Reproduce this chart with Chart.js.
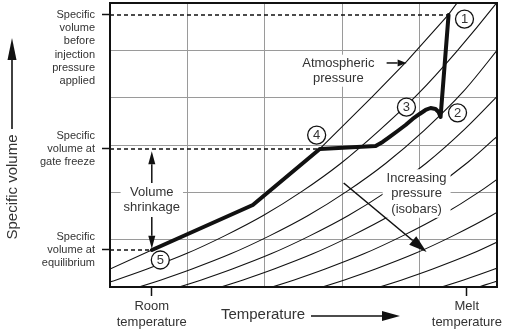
<!DOCTYPE html>
<html>
<head>
<meta charset="utf-8">
<script src="https://cdn.jsdelivr.net/npm/chart.js@4/dist/chart.umd.min.js"></script>
<style>
  html, body { margin: 0; padding: 0; background: #fff; }
</style>
</head>
<body>
<canvas id="pvt" width="506" height="329"></canvas>
<script>
// temperature axis runs 0..5, specific volume 0..6 (one unit per grid cell)
const roomTemp = 0.54;
const meltTemp = 4.61;
const volBeforeInjection = 5.747;
const volGateFreeze = 2.916;
const volEquilibrium = 0.782;
const beforeLabelAnchor = 5.05; // centre of the six-line label under the top tick

// moulding cycle path 5 -> 4 -> 3 -> 2 -> 1 as [temperature, volume]
const processPath = [
  [0.542, 0.782], [1.845, 1.733], [2.71, 2.916], [3.432, 2.979], [3.523, 3.064],
  [3.613, 3.17], [3.716, 3.296], [3.819, 3.423], [3.91, 3.55], [4.0, 3.655],
  [4.077, 3.74], [4.142, 3.782], [4.206, 3.761], [4.245, 3.697], [4.271, 3.592],
  [4.374, 5.747]
];

// stage markers
const stageNames = ['1', '2', '3', '4', '5'];
const stageTemps = [4.58, 4.49, 3.83, 2.67, 0.65];
const stageVols = [5.66, 3.68, 3.80, 3.21, 0.57];

// isobars, atmospheric first, pressure rising down the chart
const isobarAtm = [[-0.6, -0.04], [0, 0.38], [0.54, 0.78], [1.85, 1.73], [2.71, 2.92],
  [3.39, 4.02], [3.83, 4.76], [4.37, 5.75], [4.62, 6.3]];
const isobar2 = [[-0.32, -0.06], [0.08, 0.15], [0.48, 0.38], [0.98, 0.70], [1.48, 1.08],
  [1.98, 1.51], [2.48, 2.02], [2.98, 2.61], [3.48, 3.31], [3.98, 4.08], [4.48, 4.98],
  [4.98, 5.97], [5.2, 6.45]];
const isobar3 = [[0.26, -0.06], [0.66, 0.15], [1.06, 0.38], [1.56, 0.70], [2.06, 1.08],
  [2.56, 1.51], [3.06, 2.02], [3.56, 2.61], [4.06, 3.31], [4.56, 4.12], [5.06, 5.12]];
const isobar4 = [[0.78, -0.06], [1.18, 0.15], [1.58, 0.38], [2.08, 0.70], [2.58, 1.08],
  [3.08, 1.51], [3.58, 2.02], [4.08, 2.61], [4.58, 3.33], [5.08, 4.16]];
const isobar5 = [[1.32, -0.06], [1.72, 0.15], [2.12, 0.38], [2.62, 0.70], [3.12, 1.08],
  [3.62, 1.51], [4.12, 2.02], [4.62, 2.63], [5.12, 3.36]];
const isobar6 = [[1.98, -0.06], [2.38, 0.15], [2.78, 0.38], [3.28, 0.70], [3.78, 1.08],
  [4.28, 1.51], [4.78, 2.02], [5.28, 2.61]];
const isobar7 = [[2.63, -0.06], [3.03, 0.15], [3.43, 0.38], [3.93, 0.70], [4.43, 1.08],
  [4.93, 1.51], [5.43, 2.02]];
const isobar8 = [[3.37, -0.06], [3.77, 0.15], [4.17, 0.38], [4.67, 0.70], [5.17, 1.08]];
const isobar9 = [[4.17, -0.06], [4.57, 0.15], [4.97, 0.38], [5.47, 0.70]];
const isobar10 = [[4.65, -0.06], [5.05, 0.15], [5.45, 0.38]];

const ink = '#111';
const textInk = '#333';
const gridGray = '#9a9a9a';
const clear = 'rgba(0,0,0,0)';

Chart.defaults.font.family = "'Liberation Sans', Arial, sans-serif";

const toPts = arr => arr.map(p => ({ x: p[0], y: p[1] }));

function isobarSet(arr, smooth) {
  return {
    data: toPts(arr), showLine: true, pointRadius: 0, borderColor: ink,
    borderWidth: 1.1, cubicInterpolationMode: smooth ? 'monotone' : 'default', tension: 0
  };
}

function dashSet(t, v) {
  return {
    data: [{ x: 0, y: v }, { x: t, y: v }], showLine: true, pointRadius: 0,
    borderColor: ink, borderWidth: 1.5, borderDash: [4, 3]
  };
}

function arrow(ctx, x1, y1, x2, y2, head, half, width) {
  const ang = Math.atan2(y2 - y1, x2 - x1);
  const bx = x2 - head * Math.cos(ang), by = y2 - head * Math.sin(ang);
  ctx.lineWidth = width;
  ctx.beginPath(); ctx.moveTo(x1, y1); ctx.lineTo(bx, by); ctx.stroke();
  ctx.beginPath(); ctx.moveTo(x2, y2);
  ctx.lineTo(bx + half * Math.sin(ang), by - half * Math.cos(ang));
  ctx.lineTo(bx - half * Math.sin(ang), by + half * Math.cos(ang));
  ctx.closePath(); ctx.fill();
}

function textBlock(ctx, lines, cx, cy, lh, pad) {
  const w = Math.max(...lines.map(l => ctx.measureText(l).width));
  const h = lines.length * lh;
  ctx.fillStyle = '#fff';
  ctx.fillRect(cx - w / 2 - pad, cy - h / 2 - 1, w + 2 * pad, h + 2);
  ctx.fillStyle = textInk;
  lines.forEach((l, i) => ctx.fillText(l, cx, cy - h / 2 + lh * (i + 0.5)));
}

const annotate = {
  id: 'annotate',
  afterDatasetsDraw(chart) {
    const { ctx, chartArea: a, scales: { x, y } } = chart;
    ctx.save();
    ctx.textAlign = 'center';
    ctx.textBaseline = 'middle';
    ctx.strokeStyle = ink;
    ctx.fillStyle = ink;

    // stage numbers inside the circles
    ctx.font = "13px 'Liberation Sans', Arial, sans-serif";
    ctx.fillStyle = textInk;
    stageNames.forEach((n, i) => {
      ctx.fillText(n, x.getPixelForValue(stageTemps[i]), y.getPixelForValue(stageVols[i]) + 0.5);
    });

    // atmospheric pressure note
    const ax = x.getPixelForValue(2.95), ay = y.getPixelForValue(4.57);
    textBlock(ctx, ['Atmospheric', 'pressure'], ax, ay, 15, 3);
    ctx.fillStyle = ink;
    arrow(ctx, x.getPixelForValue(3.574), y.getPixelForValue(4.733),
      x.getPixelForValue(3.832), y.getPixelForValue(4.733), 9, 3.5, 1.5);

    // volume shrinkage between gate freeze and equilibrium
    const sx = x.getPixelForValue(roomTemp);
    textBlock(ctx, ['Volume', 'shrinkage'], sx, y.getPixelForValue(1.85), 15, 3);
    ctx.fillStyle = ink;
    arrow(ctx, sx, y.getPixelForValue(2.197), sx, y.getPixelForValue(2.87), 13, 3.5, 1.5);
    arrow(ctx, sx, y.getPixelForValue(1.479), sx, y.getPixelForValue(0.81), 13, 3.5, 1.5);

    // isobar note and direction of rising pressure
    textBlock(ctx, ['Increasing', 'pressure', '(isobars)'],
      x.getPixelForValue(3.961), y.getPixelForValue(1.975), 15.5, 4);
    ctx.fillStyle = ink;
    arrow(ctx, x.getPixelForValue(3.019), y.getPixelForValue(2.197),
      x.getPixelForValue(4.09), y.getPixelForValue(0.739), 18, 5.5, 1.6);

    // frame
    ctx.lineWidth = 2;
    ctx.strokeRect(a.left, a.top, a.right - a.left, a.bottom - a.top);

    // axis titles with their arrows
    ctx.font = "15px 'Liberation Sans', Arial, sans-serif";
    ctx.fillStyle = textInk;
    ctx.fillText('Temperature', 263, 315);
    ctx.fillStyle = ink;
    arrow(ctx, 311, 316, 400, 316, 18, 5, 1.6);

    ctx.save();
    ctx.translate(13, 187);
    ctx.rotate(-Math.PI / 2);
    ctx.fillStyle = textInk;
    ctx.fillText('Specific volume', 0, 0);
    ctx.restore();
    ctx.fillStyle = ink;
    arrow(ctx, 12, 129, 12, 38, 22, 4.5, 1.6);
    ctx.restore();
  }
};

const xKeys = [roomTemp, meltTemp];
const yKeys = [volEquilibrium, volGateFreeze, volBeforeInjection];
const isInt = v => Math.abs(v - Math.round(v)) < 1e-9;

new Chart(document.getElementById('pvt'), {
  type: 'scatter',
  data: {
    datasets: [
      {
        data: stageTemps.map((t, i) => ({ x: t, y: stageVols[i] })), pointRadius: 9,
        pointBackgroundColor: '#fff', pointBorderColor: ink, pointBorderWidth: 1.3
      },
      {
        data: toPts(processPath), showLine: true, pointRadius: 0, borderColor: ink,
        borderWidth: 4, borderJoinStyle: 'round', borderCapStyle: 'round', tension: 0
      },
      dashSet(processPath[processPath.length - 1][0], volBeforeInjection),
      dashSet(2.71, volGateFreeze),
      dashSet(roomTemp, volEquilibrium),
      isobarSet(isobarAtm, false),
      isobarSet(isobar2, true),
      isobarSet(isobar3, true),
      isobarSet(isobar4, true),
      isobarSet(isobar5, true),
      isobarSet(isobar6, true),
      isobarSet(isobar7, true),
      isobarSet(isobar8, true),
      isobarSet(isobar9, true),
      isobarSet(isobar10, true)
    ]
  },
  options: {
    responsive: false,
    animation: false,
    events: [],
    layout: { autoPadding: false, padding: { top: 3, right: 9, left: 0, bottom: 0 } },
    plugins: { legend: { display: false }, tooltip: { enabled: false } },
    scales: {
      x: {
        type: 'linear', min: 0, max: 5,
        afterBuildTicks: s => {
          s.ticks = [0, 1, 2, 3, 4, 5].concat(xKeys).sort((a, b) => a - b).map(v => ({ value: v }));
        },
        afterFit: s => { s.height = 42; s.paddingLeft = 0; s.paddingRight = 0; },
        grid: {
          color: c => (c.tick && isInt(c.tick.value)) ? gridGray : clear,
          tickColor: c => (c.tick && xKeys.includes(c.tick.value)) ? ink : clear,
          tickLength: 9, lineWidth: 1, tickWidth: 1.5
        },
        border: { color: ink, width: 2 },
        ticks: {
          autoSkip: false, maxRotation: 0, minRotation: 0, padding: 3, color: textInk,
          font: { size: 13 },
          callback: v => v === roomTemp ? ['Room', 'temperature'] : v === meltTemp ? ['Melt', 'temperature'] : []
        }
      },
      y: {
        type: 'linear', min: 0, max: 6,
        afterBuildTicks: s => {
          s.ticks = [0, 1, 2, 3, 4, 5, 6].concat(yKeys, [beforeLabelAnchor])
            .sort((a, b) => a - b).map(v => ({ value: v }));
        },
        afterFit: s => { s.width = 110; s.paddingTop = 0; s.paddingBottom = 0; },
        grid: {
          color: c => (c.tick && isInt(c.tick.value)) ? gridGray : clear,
          tickColor: c => (c.tick && yKeys.includes(c.tick.value)) ? ink : clear,
          tickLength: 8, lineWidth: 1, tickWidth: 1.5
        },
        border: { color: ink, width: 2 },
        ticks: {
          autoSkip: false, padding: 7, color: textInk, font: { size: 11, lineHeight: 1.2 },
          callback: v => {
            if (v === beforeLabelAnchor) return ['Specific', 'volume', 'before', 'injection', 'pressure', 'applied'];
            if (v === volGateFreeze) return ['Specific', 'volume at', 'gate freeze'];
            if (v === volEquilibrium) return ['Specific', 'volume at', 'equilibrium'];
            return [];
          }
        }
      }
    }
  },
  plugins: [annotate]
});
</script>
</body>
</html>
